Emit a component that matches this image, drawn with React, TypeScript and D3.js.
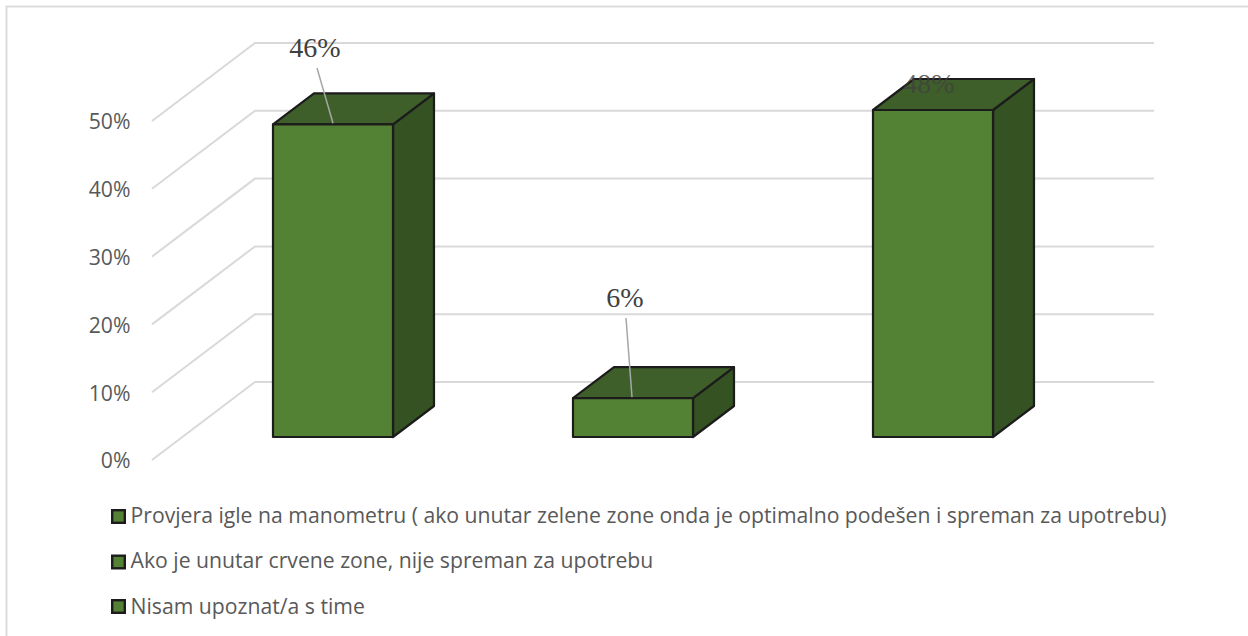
import React from 'react';
import * as d3 from 'd3';

// values
const categories = [
  'Provjera igle na manometru ( ako unutar zelene zone onda je optimalno podešen i spreman za upotrebu)',
  'Ako je unutar crvene zone, nije spreman za upotrebu',
  'Nisam upoznat/a s time',
];
const barValues = [45.9, 5.7, 48];
const dataLabels = ['46%', '6%', '48%'];
const tickValues = [0, 10, 20, 30, 40, 50];

const W = 1248;
const H = 636;

// depth of the 3d box and of the whole floor
const barDepth = { dx: 41, dy: -31 };
const floorDepth = { dx: 103, dy: -78 };

const x = d3.scaleBand<string>()
  .domain(categories)
  .range([183, 1083])
  .paddingInner(0.6)
  .paddingOuter(0.3);

// front plane of the bars
const yBar = d3.scaleLinear().domain([0, 48]).range([437, 110]);
// axis plane at the left of the floor
const yAxis = d3.scaleLinear().domain([0, 50]).range([460, 121]);

const axisX = 152;
const gridRight = 1154;
const line = d3.line();

const green = '#548235';
const greenTop = '#3f5f2a';
const greenSide = '#345222';
const outline = '#1c1c1c';

// leader lines go from under the label down to the bar top
const leaders = [
  { from: [317, 68], xAt: 333 },
  { from: [626, 318], xAt: 632 },
];

export default function App() {
  return (
    <svg
      width={W}
      height={H}
      style={{ position: 'absolute', left: 0, top: 0, background: '#fff' }}
    >
      {/* only the top and left of the chart border are in the crop */}
      <path d="M6.5,636V6.5H1248" fill="none" stroke="#dcdcdc" strokeWidth={2} />

      {/* walls */}
      {tickValues.map(t => {
        const y0 = yAxis(t);
        return (
          <path
            key={t}
            d={line([
              [axisX, y0],
              [axisX + floorDepth.dx, y0 + floorDepth.dy],
              [gridRight, y0 + floorDepth.dy],
            ]) ?? ''}
            fill="none"
            stroke="#d9d9d9"
            strokeWidth={2}
          />
        );
      })}

      {tickValues.map(t => (
        <text
          key={t}
          x={130.5}
          y={yAxis(t) + 1}
          dy="0.35em"
          textAnchor="end"
          fontFamily="Open Sans"
          fontSize={21.2}
          fill="#595959"
        >
          {t}%
        </text>
      ))}

      {/* bars */}
      {categories.map((c, i) => {
        const x0 = x(c) ?? 0;
        const x1 = x0 + x.bandwidth();
        const y0 = yBar(0);
        const y1 = yBar(barValues[i]);
        const { dx, dy } = barDepth;
        return (
          <g key={c} stroke={outline} strokeWidth={2.2} strokeLinejoin="round">
            <path
              d={line([[x1, y1], [x1 + dx, y1 + dy], [x1 + dx, y0 + dy], [x1, y0]]) + 'Z'}
              fill={greenSide}
            />
            <path
              d={line([[x0, y1], [x0 + dx, y1 + dy], [x1 + dx, y1 + dy], [x1, y1]]) + 'Z'}
              fill={greenTop}
            />
            <rect x={x0} y={y1} width={x1 - x0} height={y0 - y1} fill={green} />
          </g>
        );
      })}

      {/* leader lines */}
      {leaders.map((l, i) => (
        <line
          key={i}
          x1={l.from[0]}
          y1={l.from[1]}
          x2={l.xAt}
          y2={yBar(barValues[i]) - 1}
          stroke="#a6a6a6"
          strokeWidth={1.5}
        />
      ))}

      {/* data labels */}
      {dataLabels.map((d, i) => {
        const pos = [[315, 57], [625, 307], [929, 93]][i];
        return (
          <text
            key={d}
            x={pos[0]}
            y={pos[1]}
            textAnchor="middle"
            fontFamily="Liberation Serif"
            fontSize={28}
            fill="#404040"
            fillOpacity={i === 2 ? 0.8 : 1}
          >
            {d}
          </text>
        );
      })}

      {/* legend */}
      {categories.map((c, i) => {
        const ly = [516.5, 562, 606.5][i];
        const textY = [516, 560.7, 606.6][i];
        return (
          <g key={c}>
            <rect x={112.2} y={ly - 6.3} width={12.6} height={12.6} fill={green} stroke={outline} strokeWidth={2.4} />
            <text x={130.5} y={textY} dy="0.35em" fontFamily="Open Sans" fontSize={21.2} fill="#595959">
              {c}
            </text>
          </g>
        );
      })}
    </svg>
  );
}
